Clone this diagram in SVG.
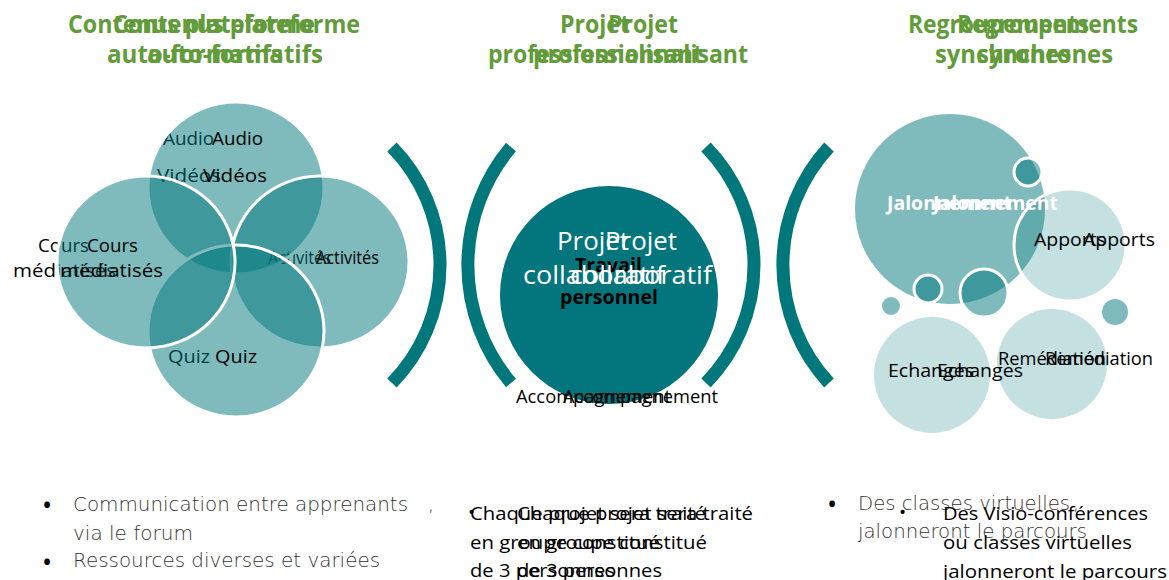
<svg xmlns="http://www.w3.org/2000/svg" width="1169" height="580" viewBox="0 0 1169 580">
<style>
.hd{font-family:"Open Sans","Liberation Sans",sans-serif;font-weight:700;font-size:25px;fill:#629B3A}
.t{font-family:"Open Sans","Liberation Sans",sans-serif;font-size:19px;fill:#000}
.tw{font-family:"Open Sans","Liberation Sans",sans-serif;font-size:25px;fill:#fff}
.thin{font-family:"DejaVu Sans","Liberation Sans",sans-serif;font-weight:200;font-size:19px;fill:#333}
.bul{font-family:"Open Sans","Liberation Sans",sans-serif;font-size:27px;fill:#000}
.v{fill:#00777B;fill-opacity:.5;stroke:#fff;stroke-width:3}
.l{fill:#00777B;fill-opacity:.23;stroke:#fff;stroke-width:3}
.arc{fill:none;stroke:#00777B;stroke-width:13}
</style>
<g id="headers">
<text class="hd" x="68" y="33" textLength="247" lengthAdjust="spacingAndGlyphs">Contenus plateforme</text>
<text class="hd" x="113" y="33" textLength="247" lengthAdjust="spacingAndGlyphs">Contenus plateforme</text>
<text class="hd" x="107" y="63" textLength="176" lengthAdjust="spacingAndGlyphs">auto-formatifs</text>
<text class="hd" x="147" y="63" textLength="176" lengthAdjust="spacingAndGlyphs">auto-formatifs</text>
<text class="hd" x="560" y="33" textLength="70" lengthAdjust="spacingAndGlyphs">Projet</text>
<text class="hd" x="608" y="33" textLength="70" lengthAdjust="spacingAndGlyphs">Projet</text>
<text class="hd" x="488" y="63" textLength="215" lengthAdjust="spacingAndGlyphs">professionnalisant</text>
<text class="hd" x="533" y="63" textLength="215" lengthAdjust="spacingAndGlyphs">professionnalisant</text>
<text class="hd" x="908" y="33" textLength="181" lengthAdjust="spacingAndGlyphs">Regroupements</text>
<text class="hd" x="957" y="33" textLength="181" lengthAdjust="spacingAndGlyphs">Regroupements</text>
<text class="hd" x="935" y="63" textLength="136" lengthAdjust="spacingAndGlyphs">synchrones</text>
<text class="hd" x="977" y="63" textLength="136" lengthAdjust="spacingAndGlyphs">synchrones</text>
</g>
<g id="venn">
<g id="venn-under-text">
<text class="t" x="163" y="145" textLength="51" lengthAdjust="spacingAndGlyphs">Audio</text>
<text class="t" x="157" y="182" textLength="64" lengthAdjust="spacingAndGlyphs">Vidéos</text>
<text class="t" x="38" y="252" textLength="51" lengthAdjust="spacingAndGlyphs">Cours</text>
<text class="t" x="13" y="277" textLength="103" lengthAdjust="spacingAndGlyphs">médiatisés</text>
<text class="t" x="268" y="264" font-size="15" textLength="63" lengthAdjust="spacingAndGlyphs">Activités</text>
<text class="t" x="168" y="363" textLength="42" lengthAdjust="spacingAndGlyphs">Quiz</text>
</g>
<ellipse id="venn-top" class="v" cx="236" cy="188" rx="88" ry="86"/>
<ellipse id="venn-right" class="v" cx="320" cy="262" rx="89" ry="86"/>
<ellipse id="venn-bottom" class="v" cx="236" cy="331" rx="88" ry="86"/>
<ellipse id="venn-left" class="v" cx="146" cy="262" rx="89" ry="86"/>
<g id="venn-text">
<text class="t" x="212" y="145" textLength="51" lengthAdjust="spacingAndGlyphs">Audio</text>
<text class="t" x="203" y="182" textLength="64" lengthAdjust="spacingAndGlyphs">Vidéos</text>
<text class="t" x="87" y="252" textLength="51" lengthAdjust="spacingAndGlyphs">Cours</text>
<text class="t" x="60" y="277" textLength="103" lengthAdjust="spacingAndGlyphs">médiatisés</text>
<text class="t" x="316" y="264" font-size="15" textLength="63" lengthAdjust="spacingAndGlyphs">Activités</text>
<text class="t" x="215" y="363" textLength="42" lengthAdjust="spacingAndGlyphs">Quiz</text>
</g>
</g>
<g id="brackets">
<path class="arc" d="M392,147 A169,169 0 0 1 392,383"/>
<path class="arc" d="M511,147 A183,183 0 0 0 511,383"/>
<path class="arc" d="M706,147 A169,169 0 0 1 706,383"/>
<path class="arc" d="M829,147 A174,174 0 0 0 829,383"/>
</g>
<g id="center">
<circle cx="609" cy="295" r="109" fill="#02767C"/>
<text class="t" x="575" y="272" font-size="17" font-weight="700" textLength="67" lengthAdjust="spacingAndGlyphs">Travail</text>
<text class="t" x="560" y="304" font-size="17" font-weight="700" textLength="98" lengthAdjust="spacingAndGlyphs">personnel</text>
<text class="tw" x="557" y="250" textLength="72" lengthAdjust="spacingAndGlyphs">Projet</text>
<text class="tw" x="605" y="250" textLength="72" lengthAdjust="spacingAndGlyphs">Projet</text>
<text class="tw" x="523" y="284" textLength="142" lengthAdjust="spacingAndGlyphs">collaboratif</text>
<text class="tw" x="570" y="284" textLength="142" lengthAdjust="spacingAndGlyphs">collaboratif</text>
<text class="t" x="516" y="403" font-size="17" textLength="155" lengthAdjust="spacingAndGlyphs">Accompagnement</text>
<text class="t" x="563" y="403" font-size="17" textLength="155" lengthAdjust="spacingAndGlyphs">Accompagnement</text>
</g>
<g id="bubbles">
<circle id="b-jalon" cx="950" cy="209" r="95" fill="#00777B" fill-opacity=".5"/>
<circle id="b-apports" class="l" cx="1070" cy="245" r="56"/>
<circle class="v" cx="1028" cy="172" r="14"/>
<circle class="v" cx="928" cy="289" r="14"/>
<circle class="v" cx="984" cy="293" r="24"/>
<circle cx="891" cy="306" r="9" fill="#00777B" fill-opacity=".5"/>
<circle cx="1115" cy="312" r="13" fill="#00777B" fill-opacity=".5"/>
<circle id="b-echanges" cx="932" cy="375" r="58" fill="#00777B" fill-opacity=".23"/>
<circle id="b-remed" cx="1052" cy="364" r="55" fill="#00777B" fill-opacity=".23"/>
<text class="t" x="887" y="210" font-size="17" font-weight="700" style="fill:#fff" textLength="125" lengthAdjust="spacingAndGlyphs">Jalonnement</text>
<text class="t" x="933" y="210" font-size="17" font-weight="700" style="fill:#fff" textLength="125" lengthAdjust="spacingAndGlyphs">Jalonnement</text>
<text class="t" x="1034" y="246" textLength="72" lengthAdjust="spacingAndGlyphs">Apports</text>
<text class="t" x="1083" y="246" textLength="72" lengthAdjust="spacingAndGlyphs">Apports</text>
<text class="t" x="888" y="377" textLength="86" lengthAdjust="spacingAndGlyphs">Echanges</text>
<text class="t" x="937" y="377" textLength="86" lengthAdjust="spacingAndGlyphs">Echanges</text>
<text class="t" x="998" y="365" font-size="17" textLength="108" lengthAdjust="spacingAndGlyphs">Remédiation</text>
<text class="t" x="1045" y="365" font-size="17" textLength="108" lengthAdjust="spacingAndGlyphs">Remédiation</text>
</g>
<g id="notes-left">
<text class="bul" x="42" y="515">•</text>
<text class="thin" x="73" y="511" textLength="335" lengthAdjust="spacingAndGlyphs">Communication entre apprenants</text>
<text class="thin" x="428" y="511">,</text>
<text class="thin" x="73" y="540" textLength="120" lengthAdjust="spacingAndGlyphs">via le forum</text>
<text class="bul" x="42" y="572">•</text>
<text class="thin" x="73" y="567" textLength="307" lengthAdjust="spacingAndGlyphs">Ressources diverses et variées</text>
</g>
<g id="notes-middle">
<text class="t" x="468" y="519">•</text>
<text class="t" x="470" y="520" textLength="236" lengthAdjust="spacingAndGlyphs">Chaque projet sera traité</text>
<text class="t" x="517" y="520" textLength="236" lengthAdjust="spacingAndGlyphs">Chaque projet sera traité</text>
<text class="t" x="470" y="549" textLength="190" lengthAdjust="spacingAndGlyphs">en groupe constitué</text>
<text class="t" x="517" y="549" textLength="190" lengthAdjust="spacingAndGlyphs">en groupe constitué</text>
<text class="t" x="470" y="577" textLength="145" lengthAdjust="spacingAndGlyphs">de 3 personnes</text>
<text class="t" x="517" y="577" textLength="145" lengthAdjust="spacingAndGlyphs">de 3 personnes</text>
</g>
<g id="notes-right">
<text class="bul" x="827" y="514">•</text>
<text class="thin" x="858" y="510" textLength="212" lengthAdjust="spacingAndGlyphs">Des classes virtuelles</text>
<text class="thin" x="1073" y="510">,</text>
<text class="thin" x="858" y="538" textLength="229" lengthAdjust="spacingAndGlyphs">jalonneront le parcours</text>
<text class="t" x="899" y="519">•</text>
<text class="t" x="943" y="520" textLength="205" lengthAdjust="spacingAndGlyphs">Des Visio-conférences</text>
<text class="t" x="943" y="549" textLength="189" lengthAdjust="spacingAndGlyphs">ou classes virtuelles</text>
<text class="t" x="943" y="578" textLength="224" lengthAdjust="spacingAndGlyphs">jalonneront le parcours</text>
</g>
</svg>
